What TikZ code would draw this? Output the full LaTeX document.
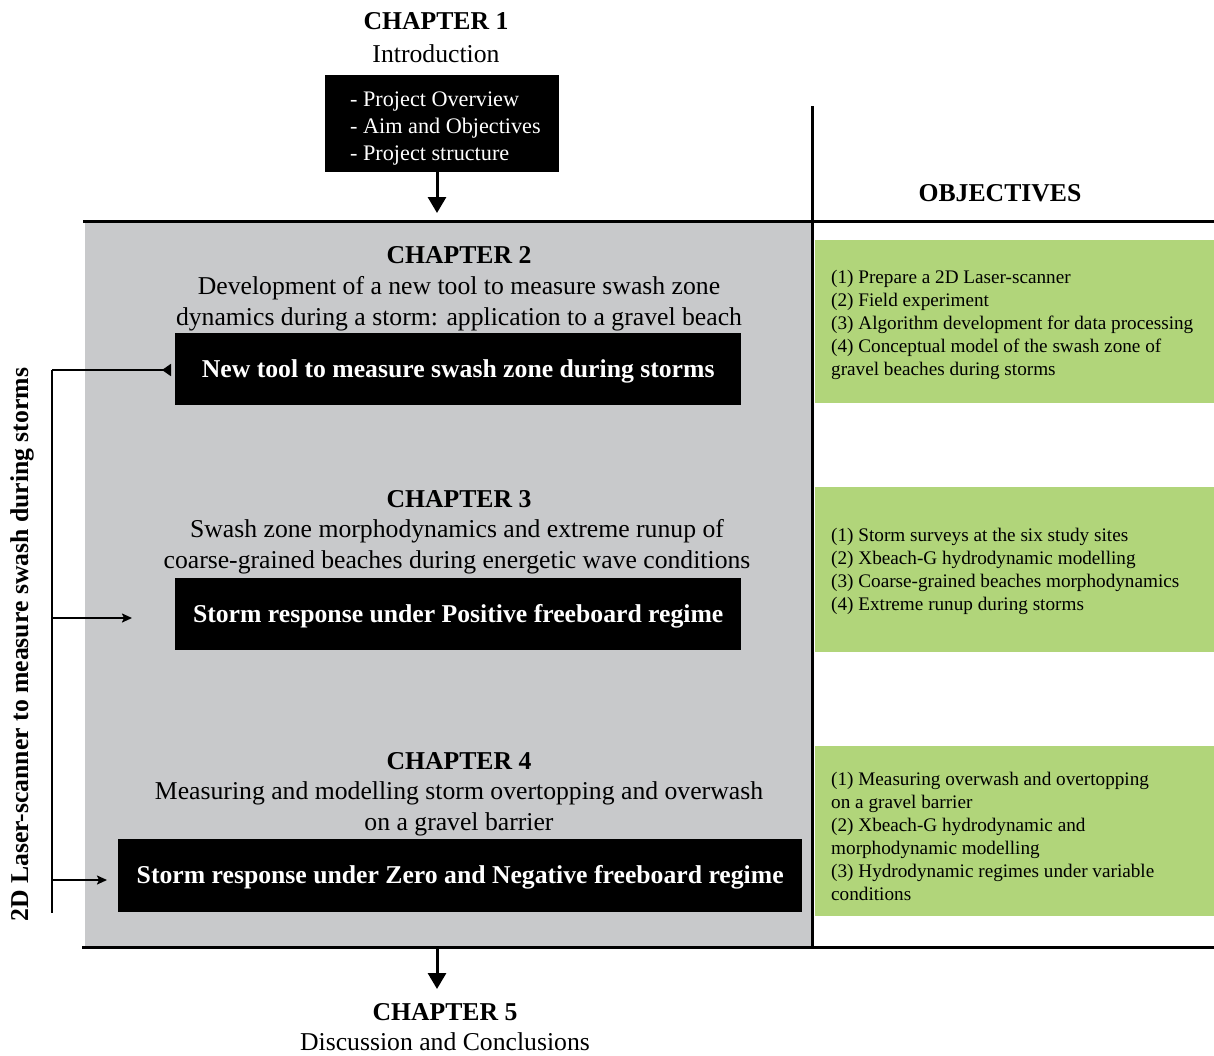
\documentclass[tikz,border=0pt]{standalone}
\usepackage{fontspec}
\setmainfont{Liberation Serif}
\usetikzlibrary{arrows.meta}
\definecolor{panelgray}{HTML}{C8C9CB}
\definecolor{objgreen}{HTML}{B1D57A}
\tikzset{
  chtitle/.style={font=\fontsize{25.7}{30}\selectfont\bfseries, inner sep=0pt},
  chsub/.style={font=\fontsize{25.7}{31}\selectfont, align=center, inner sep=0pt},
  blackbox/.style={fill=black, text=white, font=\fontsize{25.7}{30}\selectfont\bfseries, inner sep=0pt},
  objbox/.style={fill=objgreen, inner sep=0pt},
  objtext/.style={font=\fontsize{19.2}{23}\selectfont, align=left, anchor=west, inner sep=0pt},
  rule/.style={line width=3pt},
  conn/.style={line width=1.8pt},
  bigarrow/.style={line width=3pt, -{Triangle[length=16pt,width=18pt]}},
}
\begin{document}
\begin{tikzpicture}[x=1pt,y=-1pt]
\useasboundingbox (0,0) rectangle (1214,1055);
% gray panel
\fill[panelgray] (85,221) rectangle (812,947);
% green objective boxes
\node[objbox, minimum width=399pt, minimum height=163pt, anchor=north west] (g1) at (815,240) {};
\node[objbox, minimum width=399pt, minimum height=165pt, anchor=north west] (g2) at (815,487) {};
\node[objbox, minimum width=399pt, minimum height=170pt, anchor=north west] (g3) at (815,746) {};
% rules
\coordinate (topL) at (83,221);
\coordinate (topR) at (1214,221);
\coordinate (botL) at (82,947);
\coordinate (botR) at (1214,947);
\coordinate (vT) at (812,106);
\coordinate (vB) at (812,947);
\draw[rule] (topL) -- (topR);
\draw[rule] (botL) -- (botR);
\draw[rule] (vT) -- (vB);
% objectives heading
\node[chtitle] (objh) at (1000,193) {OBJECTIVES};
% chapter 1
\node[chtitle] (c1t) at (436,21) {CHAPTER 1};
\node[chsub] (c1s) at (436,54) {Introduction};
\node[fill=black, minimum width=234pt, minimum height=97pt, anchor=north west] (c1b) at (325,75) {};
\node[text=white, font=\fontsize{22.2}{27}\selectfont, align=left, inner sep=0pt, anchor=west] (c1txt) at (350,129) {- Project Overview\\- Aim and Objectives\\- Project structure};
\coordinate (a1e) at (437,213);
\draw[bigarrow] (c1b.south -| a1e) -- (a1e);
% chapter 2
\node[chtitle] (c2t) at (459,255) {CHAPTER 2};
\node[chsub] (c2s) at (459,303.5) {Development of a new tool to measure swash zone\\dynamics during a storm: application to a gravel beach};
\node[blackbox, minimum width=566pt, minimum height=72pt, anchor=north west] (b2) at (175,333) {};
\node[blackbox] (b2t) at ([yshift=-2pt]b2.center) {New tool to measure swash zone during storms};
% chapter 3
\node[chtitle] (c3t) at (459,499) {CHAPTER 3};
\node[chsub] (c3s) at (457,546.5) {Swash zone morphodynamics and extreme runup of\\coarse-grained beaches during energetic wave conditions};
\node[blackbox, minimum width=566pt, minimum height=72pt, anchor=north west] (b3) at (175,578) {};
\node[blackbox] (b3t) at ([yshift=-2pt]b3.center) {Storm response under Positive freeboard regime};
% chapter 4
\node[chtitle] (c4t) at (459,761) {CHAPTER 4};
\node[chsub] (c4s) at (459,809) {Measuring and modelling storm overtopping and overwash\\on a gravel barrier};
\node[blackbox, minimum width=684pt, minimum height=73pt, anchor=north west] (b4) at (118,839) {};
\node[blackbox] (b4t) at ([yshift=-2pt]b4.center) {Storm response under Zero and Negative freeboard regime};
% chapter 5
\coordinate (a5s) at (437,947);
\coordinate (a5e) at (437,989);
\draw[bigarrow] (a5s) -- (a5e);
\node[chtitle] (c5t) at (445,1012) {CHAPTER 5};
\node[chsub] (c5s) at (445,1042) {Discussion and Conclusions};
% objectives text
\node[objtext] (o1) at (831,325) {(1) Prepare a 2D Laser-scanner\\(2) Field experiment\\(3) Algorithm development for data processing\\(4) Conceptual model of the swash zone of\\gravel beaches during storms};
\node[objtext] (o2) at (831,571) {(1) Storm surveys at the six study sites\\(2) Xbeach-G hydrodynamic modelling\\(3) Coarse-grained beaches morphodynamics\\(4) Extreme runup during storms};
\node[objtext] (o3) at (831,836) {(1) Measuring overwash and overtopping\\on a gravel barrier\\(2) Xbeach-G hydrodynamic and\\morphodynamic modelling\\(3) Hydrodynamic regimes under variable\\conditions};
% left connector
\coordinate (lT) at (52,370);
\coordinate (lM) at (52,618);
\coordinate (lF) at (52,880);
\coordinate (lB) at (52,913);
\draw[conn] (lT) -- (lB);
\draw[conn, -{Triangle[reversed,length=9pt,width=12pt]}] (lT) -- ([xshift=-4pt]b2.west |- lT);
\coordinate (m3) at (132,618);
\coordinate (m4) at (107,880);
\draw[conn, -{Stealth[length=10pt,width=9pt,inset=2pt]}] (lM) -- (m3);
\draw[conn, -{Stealth[length=10pt,width=9pt,inset=2pt]}] (lF) -- (m4);
\node[font=\fontsize{25.7}{30}\selectfont\bfseries, rotate=90, inner sep=0pt, anchor=west] (side) at (22,922) {2D Laser-scanner to measure swash during storms};
\end{tikzpicture}
\end{document}
